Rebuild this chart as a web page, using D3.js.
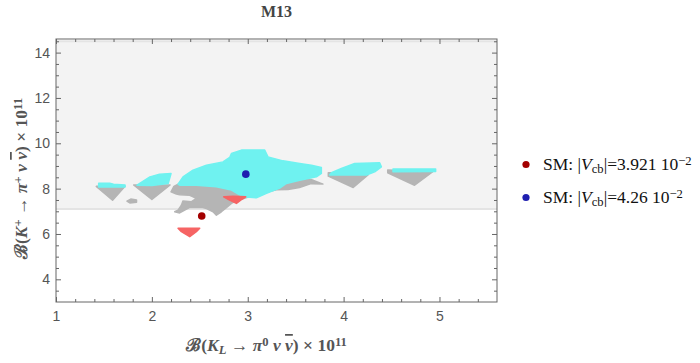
<!DOCTYPE html>
<html>
<head>
<meta charset="utf-8">
<script src="https://cdn.jsdelivr.net/npm/d3@7"></script>
<style>
  body { margin: 0; background: #fff; }
  .tick text { font-family: 'Liberation Sans', Arial, sans-serif; font-size: 14px; fill: #555; }
  .tick line { stroke: #666; }
</style>
</head>
<body>
<script>
// axis ranges and ticks
const xDomain = [1, 5.6]
const yDomain = [3, 14.6]
const xMajor = [1, 2, 3, 4, 5]
const xMinor = [1.2, 1.4, 1.6, 1.8, 2.2, 2.4, 2.6, 2.8, 3.2, 3.4, 3.6, 3.8, 4.2, 4.4, 4.6, 4.8, 5.2, 5.4]
const yMajor = [4, 6, 8, 10, 12, 14]
const yMinor = [3.5, 4.5, 5, 5.5, 6.5, 7, 7.5, 8.5, 9, 9.5, 10.5, 11, 11.5, 12.5, 13, 13.5, 14.5]

// experimental band for K+ -> pi+ nu nubar
const band = [7.1, 14.5]

// scanned regions (outlines)
const grayRegions = [
  [[1.42, 8.1], [1.72, 8.1], [1.59, 7.49]],
  [[1.74, 7.45], [1.78, 7.54], [1.84, 7.5], [1.84, 7.4], [1.77, 7.37]],
  [[1.81, 8.16], [2.19, 8.16], [2.0, 7.52]],
  [[2.2, 7.86], [2.23, 8.1], [2.29, 8.23], [2.4, 8.3], [2.6, 8.35], [3.0, 8.35], [3.3, 8.3], [3.45, 8.35],
   [3.66, 8.4], [3.785, 8.2], [3.66, 8.22], [3.54, 8.05], [3.42, 7.96], [3.3, 7.95], [3.2, 7.85],
   [3.09, 7.75], [2.95, 7.55], [2.88, 7.46], [2.83, 7.35], [2.78, 7.17], [2.725, 6.98], [2.673, 6.83],
   [2.638, 6.98], [2.57, 7.12], [2.53, 7.17], [2.395, 7.17], [2.29, 6.93], [2.238, 6.98], [2.273, 7.05],
   [2.308, 7.27], [2.325, 7.46], [2.41, 7.42], [2.464, 7.57], [2.395, 7.71], [2.29, 7.73], [2.256, 7.76]],
  [[3.84, 8.7], [4.25, 8.68], [4.254, 8.6], [4.1, 8.05], [3.84, 8.55]],
  [[4.46, 8.82], [4.93, 8.75], [4.74, 8.15], [4.46, 8.7]]
]
const cyanRegions = [
  [[1.445, 8.24], [1.56, 8.24], [1.6, 8.19], [1.72, 8.16], [1.72, 8.07], [1.445, 8.07]],
  [[1.845, 8.15], [1.98, 8.52], [2.08, 8.64], [2.2, 8.67], [2.17, 8.23], [2.0, 8.14]],
  [[2.273, 8.2], [2.325, 8.52], [2.429, 8.815], [2.569, 9.035], [2.742, 9.18], [2.812, 9.374], [2.83, 9.55],
   [2.934, 9.7], [3.177, 9.7], [3.211, 9.4], [3.368, 9.225], [3.542, 9.11], [3.664, 9.035], [3.768, 8.934],
   [3.768, 8.67], [3.716, 8.52], [3.542, 8.374], [3.403, 8.229], [3.333, 8.022], [3.195, 7.789],
   [3.09, 7.595], [2.951, 7.639], [2.83, 7.934], [2.673, 8.079], [2.464, 8.154], [2.29, 8.154]],
  [[3.855, 8.6], [3.873, 8.7], [3.977, 8.89], [4.116, 9.11], [4.376, 9.14], [4.394, 8.96], [4.324, 8.74], [4.238, 8.6]],
  [[4.515, 8.87], [4.96, 8.87], [4.96, 8.76], [4.515, 8.74]]
]
const redRegions = [
  [[2.749, 7.64], [2.85, 7.66], [2.979, 7.64], [2.93, 7.5], [2.882, 7.35], [2.8, 7.52]],
  [[2.273, 6.25], [2.499, 6.25], [2.464, 6.1], [2.395, 5.88], [2.308, 6.1]]
]

// SM predictions
const smX = [2.52, 2.98]
const smY = [6.79, 8.64]
const smVcb = ['3.921', '4.26']
const smColors = ['#a30000', '#1f1fb0']

const width = 700,
  height = 363,
  margin = { top: 39, right: 203, bottom: 61, left: 56 }
const innerW = width - margin.left - margin.right,
  innerH = height - margin.top - margin.bottom

const svg = d3.select('body').append('svg').attr('width', width).attr('height', height)

const xScale = d3.scaleLinear().domain(xDomain).range([0, innerW])
const yScale = d3.scaleLinear().domain(yDomain).range([innerH, 0])

const g = svg.append('g').attr('transform', `translate(${margin.left},${margin.top})`)

svg.append('defs').append('clipPath').attr('id', 'clip')
  .append('rect').attr('width', innerW).attr('height', innerH)

const plot = g.append('g').attr('clip-path', 'url(#clip)')

// band
plot.append('rect')
  .attr('x', 0).attr('width', innerW)
  .attr('y', yScale(band[1])).attr('height', yScale(band[0]) - yScale(band[1]))
  .attr('fill', '#f3f3f3')
band.forEach((b) => {
  plot.append('line').attr('x1', 0).attr('x2', innerW)
    .attr('y1', yScale(b)).attr('y2', yScale(b))
    .attr('stroke', '#e4e4e4').attr('stroke-width', 2)
})

const outline = d3.line().x((d) => xScale(d[0])).y((d) => yScale(d[1])).curve(d3.curveLinearClosed)

function drawRegions(list, color) {
  plot.append('g').selectAll('path').data(list).enter().append('path')
    .attr('d', outline)
    .attr('fill', color).attr('stroke', color)
    .attr('stroke-width', 1.5).attr('stroke-linejoin', 'round')
}
drawRegions(grayRegions, '#b5b5b5')
drawRegions(cyanRegions, '#6ff2f0')
drawRegions(redRegions, '#f66464')

// SM points
plot.selectAll('circle.sm').data(smX).enter().append('circle')
  .attr('cx', (d) => xScale(d))
  .attr('cy', (d, i) => yScale(smY[i]))
  .attr('r', 3.8)
  .attr('fill', (d, i) => smColors[i])

// axes, ticks pointing inwards on all four sides
function addAxis(axisFn, scale, major, minor, transform, labels) {
  const a = g.append('g').attr('transform', transform)
  a.call(axisFn(scale).tickValues(major).tickSize(-5).tickPadding(labels ? (axisFn === d3.axisBottom ? 9 : 6) : 0)
    .tickFormat(labels ? d3.format('d') : ''))
  a.append('g').call(axisFn(scale).tickValues(minor).tickSize(-3).tickFormat(''))
    .select('.domain').remove()
  a.selectAll('.domain').remove()
  return a
}
addAxis(d3.axisBottom, xScale, xMajor, xMinor, `translate(0,${innerH})`, true)
addAxis(d3.axisTop, xScale, xMajor, xMinor, 'translate(0,0)', false)
addAxis(d3.axisLeft, yScale, yMajor, yMinor, 'translate(0,0)', true)
addAxis(d3.axisRight, yScale, yMajor, yMinor, `translate(${innerW},0)`, false)

g.append('rect').attr('width', innerW).attr('height', innerH)
  .attr('fill', 'none').attr('stroke', '#666').attr('stroke-width', 1)

// rich text helper: parts = [text, style]  i=italic b=subscript p=superscript o=overline
function richText(sel, parts) {
  parts.forEach(([t, s]) => {
    const sp = sel.append('tspan').text(t)
    if (s && s.includes('i')) sp.attr('font-style', 'italic')
    if (s && s.includes('o')) sp.attr('text-decoration', 'overline')
    if (s && s.includes('b')) sp.attr('baseline-shift', '-25%').attr('font-size', '0.72em')
    if (s && s.includes('p')) sp.attr('baseline-shift', '40%').attr('font-size', '0.72em')
  })
}

const serif = "'Liberation Serif', 'Times New Roman', serif"

svg.append('text')
  .attr('x', margin.left + innerW / 2).attr('y', 17)
  .attr('text-anchor', 'middle')
  .attr('font-family', serif).attr('font-weight', 'bold').attr('font-size', 16)
  .attr('fill', '#444')
  .text('M13')

const xLabel = svg.append('text')
  .attr('x', margin.left + innerW / 2 - 10).attr('y', 351)
  .attr('text-anchor', 'middle')
  .attr('font-family', serif).attr('font-weight', 'bold').attr('font-size', 17.5)
  .attr('fill', '#555')
richText(xLabel, [['ℬ('], ['K', 'i'], ['L', 'ib'], [' → '], ['π', 'i'], ['0', 'p'], [' '], ['ν', 'i'], [' '],
  ['ν', 'io'], [') × 10'], ['11', 'p']])

const yLabel = svg.append('text')
  .attr('transform', `translate(27,${margin.top + innerH / 2 + 8}) rotate(-90)`)
  .attr('text-anchor', 'middle')
  .attr('font-family', serif).attr('font-weight', 'bold').attr('font-size', 17.5)
  .attr('fill', '#555')
richText(yLabel, [['ℬ('], ['K', 'i'], ['+', 'p'], [' → '], ['π', 'i'], ['+', 'p'], [' '], ['ν', 'i'], [' '],
  ['ν', 'io'], [') × 10'], ['11', 'p']])

// legend
const legend = svg.append('g')
smVcb.forEach((v, i) => {
  const yy = 164.5 + i * 33
  legend.append('circle').attr('cx', 526).attr('cy', yy).attr('r', 3.6).attr('fill', smColors[i])
  const t = legend.append('text').attr('x', 543).attr('y', yy + 5)
    .attr('font-family', serif).attr('font-size', 17.5).attr('fill', '#111')
  richText(t, [['SM: |'], ['V', 'i'], ['cb', 'b'], ['|=' + v + ' 10'], ['−2', 'p']])
})
</script>
</body>
</html>
